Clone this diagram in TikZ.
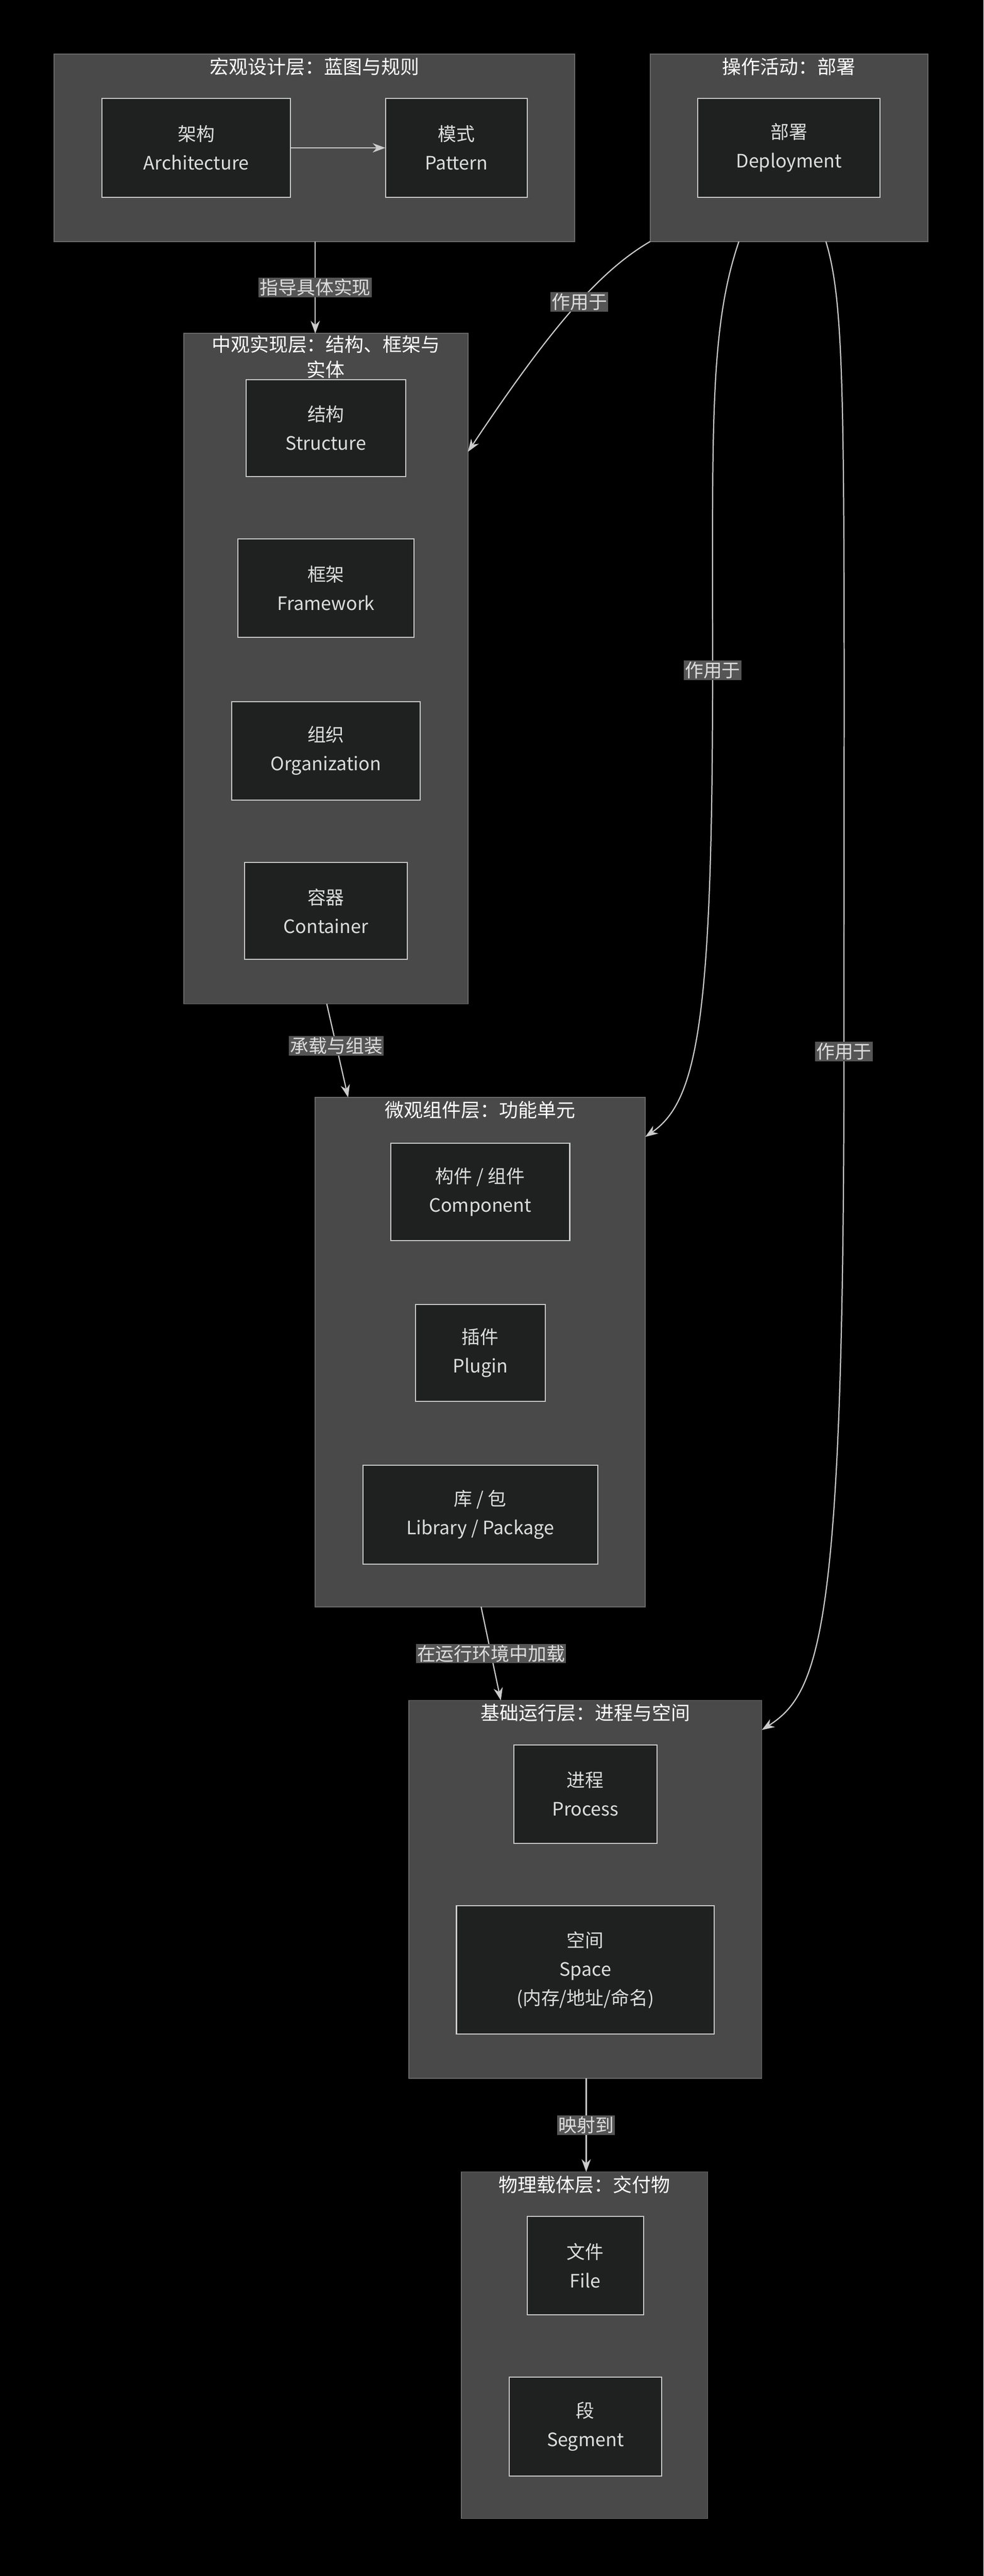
\documentclass[tikz,border=0pt]{standalone}
\usepackage{fontspec}
\setmainfont{Noto Sans CJK SC}
\usetikzlibrary{arrows.meta}
\definecolor{clusterbg}{HTML}{484948}
\definecolor{clusterln}{HTML}{6A6A6A}
\definecolor{itembg}{HTML}{1F2120}
\definecolor{itemln}{HTML}{CCCCCC}
\definecolor{txt}{HTML}{DDDDDD}
\definecolor{lblbg}{HTML}{555555}
\tikzset{
  cluster/.style={draw=clusterln,fill=clusterbg,line width=1.5pt,inner sep=0pt},
  ctitle/.style={text=white,font=\fontsize{33}{44}\selectfont,align=center,anchor=north},
  item/.style={draw=itemln,fill=itembg,line width=1.8pt,text=txt,align=center,
    font=\fontsize{32}{50}\selectfont,inner sep=0pt},
  link/.style={draw=itemln,line width=2pt,-{Stealth[length=22pt,width=16pt]}},
  lbl/.style={fill=lblbg,text=txt,font=\fontsize{32}{40}\selectfont,inner sep=2pt}
}
\begin{document}
\begin{tikzpicture}[x=0.1cm,y=-0.1cm]
\fill[black] (0,0) rectangle (599,1568);
\useasboundingbox (0,0) rectangle (599,1568);
% clusters
\draw[cluster] (33,33) rectangle (350,147);
\node[ctitle] (macroT) at (191.5,34) {宏观设计层：蓝图与规则};
\draw[cluster] (396,33) rectangle (565,147);
\node[ctitle] (deployT) at (480.5,34) {操作活动：部署};
\draw[cluster] (112,203) rectangle (285,611);
\node[ctitle] (mesoT) at (198.5,203) {中观实现层：结构、框架与\\实体};
\draw[cluster] (192,668) rectangle (393,978);
\node[ctitle] (microT) at (292.5,669) {微观组件层：功能单元};
\draw[cluster] (249,1035) rectangle (464,1265);
\node[ctitle] (baseT) at (356.5,1036) {基础运行层：进程与空间};
\draw[cluster] (281,1322) rectangle (431,1533);
\node[ctitle] (physT) at (356,1323) {物理载体层：交付物};
% invisible cluster anchors
\coordinate (macroB) at (192,147);
\coordinate (mesoTop) at (192,203);
\coordinate (depA) at (396,147);
\coordinate (depB) at (450,147);
\coordinate (depC) at (503,147);
\coordinate (mesoR) at (285,275);
\coordinate (mesoB) at (199,611);
\coordinate (microTop) at (212,668);
\coordinate (microR) at (393,692);
\coordinate (microB) at (293,978);
\coordinate (baseTop) at (305,1035);
\coordinate (baseR) at (464,1053);
\coordinate (baseB) at (357,1265);
\coordinate (physTop) at (357,1322);
% items
\node[item,minimum width=11.5cm,minimum height=6cm] (arch) at (119.5,90) {架构\\Architecture};
\node[item,minimum width=8.6cm,minimum height=6cm] (pattern) at (278,90) {模式\\Pattern};
\node[item,minimum width=11.1cm,minimum height=6cm] (deploy) at (480.5,90) {部署\\Deployment};
\node[item,minimum width=9.7cm,minimum height=5.9cm] (structure) at (198.5,260.5) {结构\\Structure};
\node[item,minimum width=10.7cm,minimum height=6cm] (framework) at (198.5,358) {框架\\Framework};
\node[item,minimum width=11.5cm,minimum height=6cm] (organization) at (198.5,457) {组织\\Organization};
\node[item,minimum width=9.9cm,minimum height=5.9cm] (container) at (198.5,554.5) {容器\\Container};
\node[item,minimum width=10.9cm,minimum height=5.9cm] (component) at (292.5,725.5) {构件 / 组件\\Component};
\node[item,minimum width=7.9cm,minimum height=5.9cm] (plugin) at (292.5,823.5) {插件\\Plugin};
\node[item,minimum width=14.3cm,minimum height=6cm] (library) at (292.5,922) {库 / 包\\Library / Package};
\node[item,minimum width=8.7cm,minimum height=6cm] (process) at (356.5,1092) {进程\\Process};
\node[item,minimum width=15.7cm,minimum height=7.8cm] (space) at (356.5,1199) {空间\\Space\\(内存/地址/命名)};
\node[item,minimum width=7.1cm,minimum height=6cm] (file) at (356.5,1379) {文件\\File};
\node[item,minimum width=9.3cm,minimum height=6cm] (segment) at (356.5,1477) {段\\Segment};
% connectors
\draw[link] (arch) -- (pattern);
\draw[link] (macroB) -- node[lbl] {指导具体实现} (mesoTop);
\draw[link] (depA) .. controls (365,165) and (335,200) .. node[lbl,pos=0.45] {作用于} (mesoR);
\draw[link] (depB) .. controls (432,200) and (434,260) .. (434,408)
  node[lbl] {作用于} .. controls (434,620) and (425,670) .. (microR);
\draw[link] (depC) .. controls (516,190) and (514,260) .. (514,640)
  node[lbl] {作用于} .. controls (514,990) and (500,1030) .. (baseR);
\draw[link] (mesoB) -- node[lbl,pos=0.45] {承载与组装} (microTop);
\draw[link] (microB) -- node[lbl,pos=0.5] {在运行环境中加载} (baseTop);
\draw[link] (baseB) -- node[lbl] {映射到} (physTop);
\end{tikzpicture}
\end{document}
